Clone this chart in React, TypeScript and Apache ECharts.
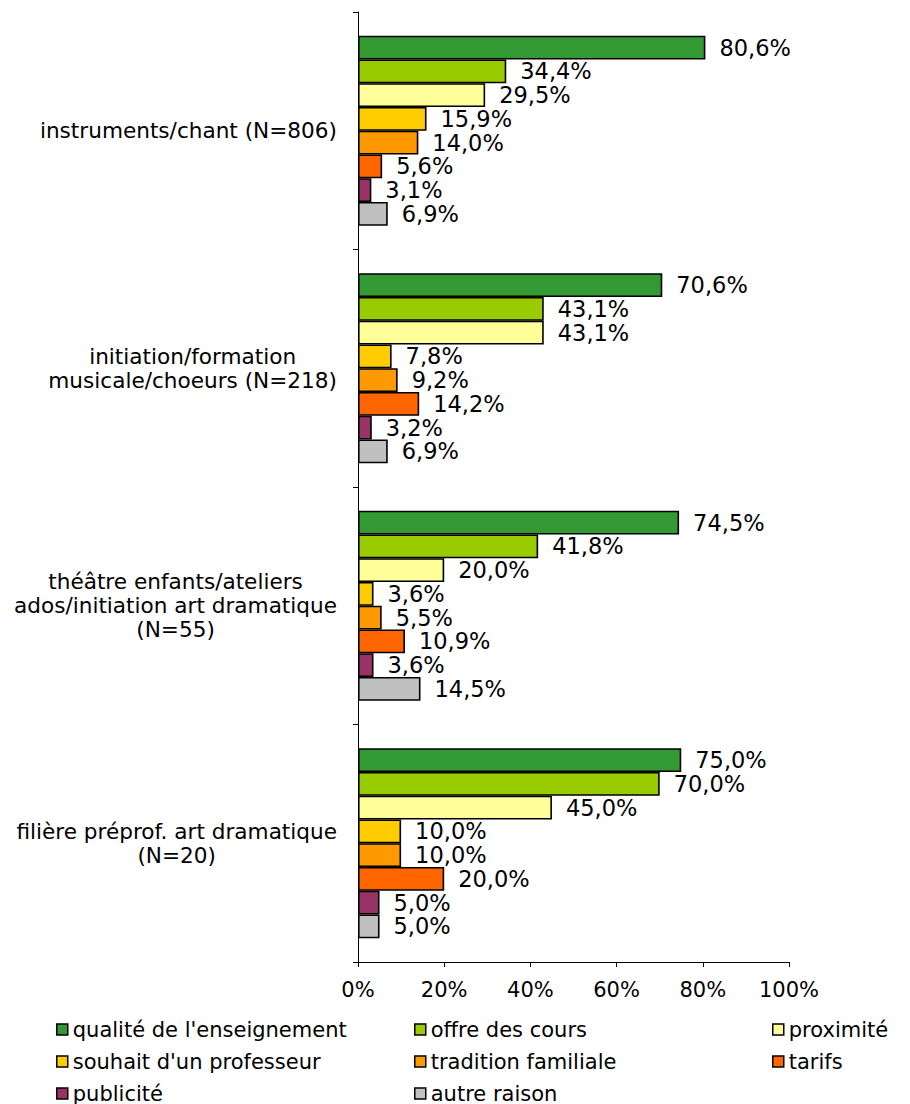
import React, { useEffect, useRef } from "react";
import * as echarts from "echarts";

const categories = [
  "instruments/chant (N=806)",
  "initiation/formation\nmusicale/choeurs (N=218)",
  "théâtre enfants/ateliers\nados/initiation art dramatique\n(N=55)",
  "filière préprof. art dramatique\n(N=20)",
];

const seriesNames = [
  "qualité de l'enseignement",
  "offre des cours",
  "proximité",
  "souhait d'un professeur",
  "tradition familiale",
  "tarifs",
  "publicité",
  "autre raison",
];

const seriesColors = [
  "#339933",
  "#99CC00",
  "#FFFF99",
  "#FFCC00",
  "#FF9900",
  "#FF6600",
  "#993366",
  "#C0C0C0",
];

const qualite = [80.6, 70.6, 74.5, 75.0];
const offre = [34.4, 43.1, 41.8, 70.0];
const proximite = [29.5, 43.1, 20.0, 45.0];
const souhait = [15.9, 7.8, 3.6, 10.0];
const tradition = [14.0, 9.2, 5.5, 10.0];
const tarifs = [5.6, 14.2, 10.9, 20.0];
const publicite = [3.1, 3.2, 3.6, 5.0];
const autre = [6.9, 6.9, 14.5, 5.0];

const seriesValues = [qualite, offre, proximite, souhait, tradition, tarifs, publicite, autre];

const xTicks = [0, 20, 40, 60, 80, 100];

const legendCol1 = [seriesNames[0], seriesNames[3], seriesNames[6]];
const legendCol2 = [seriesNames[1], seriesNames[4], seriesNames[7]];
const legendCol3 = [seriesNames[2], seriesNames[5]];

const MAIN_FONT = "'DejaVu Sans', Verdana, sans-serif";

export default function App() {
  const ref = useRef<HTMLDivElement>(null);

  useEffect(() => {
    if (!ref.current) return;
    const chart = echarts.init(ref.current, null, { renderer: "svg" });

    const legendBase = {
      orient: "vertical" as const,
      top: 1019,
      height: 200,
      padding: 0,
      itemWidth: 11,
      itemHeight: 11,
      itemGap: 11,
      icon: "rect",
      itemStyle: { borderColor: "#000", borderWidth: 1.5 },
      textStyle: {
        fontFamily: MAIN_FONT,
        fontSize: 21,
        lineHeight: 20,
        color: "#000",
      },
    };

    chart.setOption({
      animation: false,
      backgroundColor: "#fff",
      grid: { left: 358, right: 121, top: 12, bottom: 142, containLabel: false },
      legend: [
        { ...legendBase, left: 56, data: legendCol1 },
        { ...legendBase, left: 414, data: legendCol2 },
        { ...legendBase, left: 772, data: legendCol3 },
      ],
      xAxis: {
        type: "value",
        min: xTicks[0],
        max: xTicks[xTicks.length - 1],
        interval: 20,
        axisLine: { show: true, lineStyle: { color: "#000", width: 1 } },
        axisTick: { show: true, length: 5, lineStyle: { color: "#000" } },
        splitLine: { show: false },
        axisLabel: {
          formatter: "{value}%",
          fontFamily: MAIN_FONT,
          fontSize: 21,
          color: "#000",
          margin: 17,
        },
      },
      yAxis: {
        type: "category",
        inverse: true,
        data: categories,
        axisLine: { show: true, lineStyle: { color: "#000", width: 1 } },
        axisTick: { show: true, length: 5, lineStyle: { color: "#000" } },
        axisLabel: {
          margin: 21,
          color: "#000",
          fontFamily: MAIN_FONT,
          fontSize: 21.6,
          lineHeight: 24,
          formatter: (v: string) =>
            v
              .split("\n")
              .map((l) => `{c|${l}}`)
              .join("\n"),
          rich: {
            c: {
              align: "center",
              fontFamily: MAIN_FONT,
              fontSize: 21.6,
              lineHeight: 24,
              color: "#000",
            },
          },
        },
      },
      series: seriesNames.map((name, i) => ({
        name,
        type: "bar",
        data: seriesValues[i],
        barGap: "0%",
        barCategoryGap: "20%",
        itemStyle: { color: seriesColors[i], borderColor: "#000", borderWidth: 1.6 },
        label: {
          show: true,
          position: "right",
          distance: 14,
          color: "#000",
          fontFamily: MAIN_FONT,
          fontSize: 22.5,
          formatter: (p: any) => p.value.toFixed(1).replace(".", ",") + "%",
        },
      })),
    });

    return () => chart.dispose();
  }, []);

  return (
    <div
      ref={ref}
      style={{ position: "absolute", left: 0, top: 0, width: 910, height: 1104 }}
    />
  );
}
